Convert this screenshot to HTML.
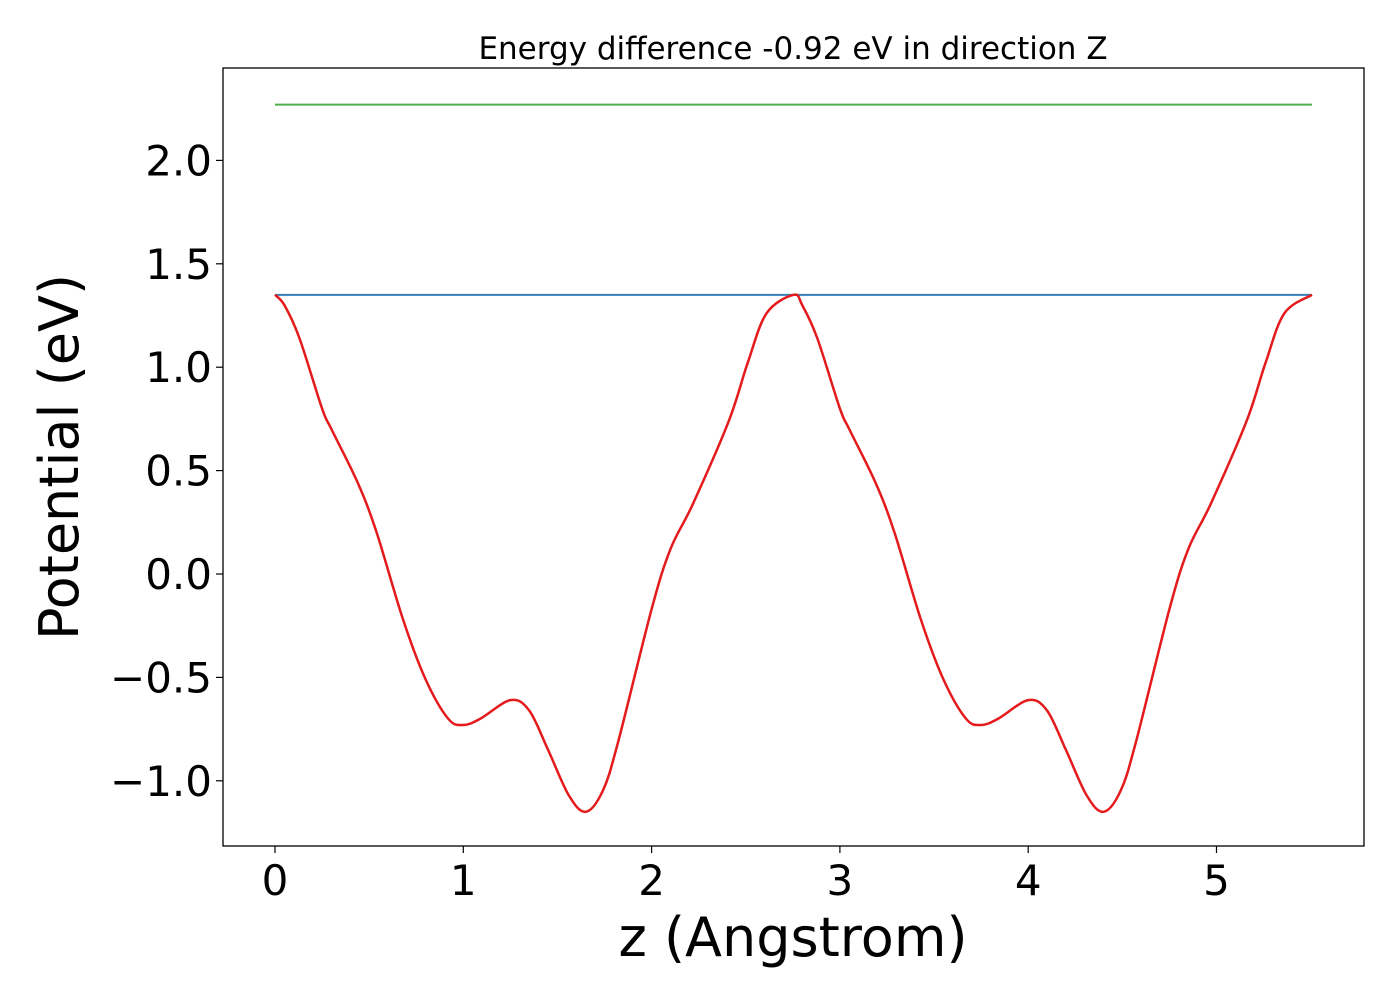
<!DOCTYPE html>
<html><head><meta charset="utf-8"><style>
body{margin:0;background:#fff}
svg{display:block;font-family:"DejaVu Sans","Liberation Sans",sans-serif}
</style></head><body>
<svg id="chart" width="1400" height="1000" viewBox="0 0 1400 1000">
<text x="793" y="59" font-size="31" text-anchor="middle">Energy difference -0.92 eV in direction Z</text>
<g id="axes"></g>
<g id="series"></g>
<rect x="223" y="68" width="1141" height="778" fill="none" stroke="#000" stroke-width="1.3"/>
<text x="793" y="956" font-size="54" text-anchor="middle">z (Angstrom)</text>
<text transform="translate(78,457) rotate(-90)" font-size="54" text-anchor="middle">Potential (eV)</text>
</svg>
<script>
const zValues=[0,0.05,0.13,0.25,0.30,0.44,0.54,0.68,0.80,0.92,1.00,1.09,1.25,1.35,1.45,1.56,1.65,1.74,1.82,2.00,2.10,2.22,2.41,2.51,2.61,2.754,2.80,2.88,3.00,3.05,3.19,3.29,3.43,3.55,3.67,3.75,3.84,4.00,4.10,4.20,4.31,4.40,4.49,4.57,4.75,4.85,4.97,5.16,5.26,5.36,5.507];
const potValues=[1.35,1.30,1.14,0.80,0.70,0.44,0.20,-0.22,-0.51,-0.70,-0.73,-0.70,-0.61,-0.66,-0.85,-1.07,-1.15,-1.05,-0.82,-0.17,0.12,0.34,0.74,1.02,1.26,1.35,1.30,1.14,0.80,0.70,0.44,0.20,-0.22,-0.51,-0.70,-0.73,-0.70,-0.61,-0.66,-0.85,-1.07,-1.15,-1.05,-0.82,-0.17,0.12,0.34,0.74,1.02,1.26,1.35];
const barrierLevel=[1.35];
const topLevel=[2.27];
const zRange=[0,5.507];
const xTicks=[0,1,2,3,4,5];
const xTickLabels=["0","1","2","3","4","5"];
const yTicks=[-1.0,-0.5,0.0,0.5,1.0,1.5,2.0];
const yTickLabels=["\u22121.0","\u22120.5","0.0","0.5","1.0","1.5","2.0"];

const NS="http://www.w3.org/2000/svg";
function xs(v){return 275+v*188.3;}
function ys(v){return 574-v*206.8;}
function mk(tag,attrs,parent){const e=document.createElementNS(NS,tag);for(const k in attrs)e.setAttribute(k,attrs[k]);parent.appendChild(e);return e;}
const axes=document.getElementById('axes'),series=document.getElementById('series');
xTicks.forEach((t,i)=>{
 const l=mk('line',{x1:xs(t),x2:xs(t),y1:846,y2:853,stroke:'#000','stroke-width':1.2},axes);
 
 
 const tx=mk('text',{x:xs(t),y:895,'font-size':42,'text-anchor':'middle'},axes);
 tx.textContent=xTickLabels[i];
 
 
});
yTicks.forEach((t,i)=>{
 const l=mk('line',{x1:216,x2:223,y1:ys(t),y2:ys(t),stroke:'#000','stroke-width':1.2},axes);
 
 
 const tx=mk('text',{x:212,y:ys(t)+15,'font-size':42,'text-anchor':'end'},axes);
 tx.textContent=yTickLabels[i];
 
 
});
const g=mk('line',{x1:xs(zRange[0]),x2:xs(zRange[1]),y1:ys(topLevel[0]),y2:ys(topLevel[0]),stroke:'#4daf4a','stroke-width':2},series);


const b=mk('line',{x1:xs(zRange[0]),x2:xs(zRange[1]),y1:ys(barrierLevel[0]),y2:ys(barrierLevel[0]),stroke:'#377eb8','stroke-width':2},series);


const P=zValues.map((z,i)=>[xs(z),ys(potValues[i])]);
let d='M'+P[0][0]+','+P[0][1];
for(let i=0;i<P.length-1;i++){
 const p0=P[Math.max(i-1,0)],p1=P[i],p2=P[i+1],p3=P[Math.min(i+2,P.length-1)];
 const c1=[p1[0]+(p2[0]-p0[0])/6,p1[1]+(p2[1]-p0[1])/6];
 const c2=[p2[0]-(p3[0]-p1[0])/6,p2[1]-(p3[1]-p1[1])/6];
 d+=` C${c1[0]},${c1[1]} ${c2[0]},${c2[1]} ${p2[0]},${p2[1]}`;
}
const r=mk('path',{d:d,fill:'none',stroke:'#e41a1c','stroke-width':2.5},series);


</script>
</body></html>
